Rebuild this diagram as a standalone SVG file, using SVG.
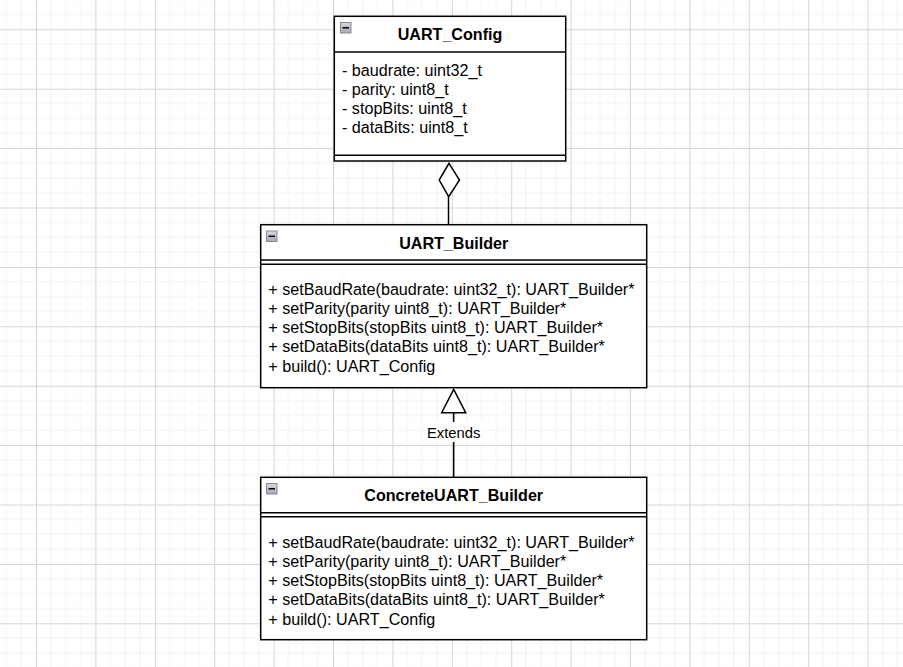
<svg xmlns="http://www.w3.org/2000/svg" width="903" height="667" viewBox="0 0 903 667">
  <style>
    .box { fill: #ffffff; stroke: #000000; stroke-width: 1.5; }
    .sep { stroke: #000000; stroke-width: 1.5; fill: none; }
    .title { font-family: "Liberation Sans", Arial, sans-serif; font-size: 16.1px; font-weight: bold; fill: #000; text-anchor: middle; }
    .member { font-family: "Liberation Sans", Arial, sans-serif; font-size: 16.15px; fill: #000; }
    .label { font-family: "Liberation Sans", Arial, sans-serif; font-size: 14.8px; fill: #000; text-anchor: middle; }
    .edge { stroke: #000000; stroke-width: 1.5; fill: none; }
    .icon { fill: url(#iconGrad); stroke: #8a8a96; stroke-width: 1; }
    .iconMinus { stroke: #000; stroke-width: 1.5; }
  </style>
  <defs>
    <pattern id="grid" width="59.4" height="59.4" patternUnits="userSpaceOnUse" patternTransform="translate(36 29.3)">
      <path d="M14.85 0V59.4M29.7 0V59.4M44.55 0V59.4M0 14.85H59.4M0 29.7H59.4M0 44.55H59.4" stroke="#f1f1f1" stroke-width="1" fill="none"/>
      <path d="M0.5 0V59.4M0 0.5H59.4" stroke="#d4d4d4" stroke-width="1" fill="none"/>
    </pattern>
    <linearGradient id="iconGrad" x1="0" y1="0" x2="0" y2="1">
      <stop offset="0" stop-color="#d8d8e0"/>
      <stop offset="1" stop-color="#a8a8b4"/>
    </linearGradient>
  </defs>

  <rect x="0" y="0" width="903" height="667" fill="#ffffff"/>
  <rect x="0" y="0" width="903" height="667" fill="url(#grid)"/>

  <g id="connectors">
    <!-- aggregation: UART_Builder -> UART_Config -->
    <path class="edge" d="M448.5 196.7V225"/>
    <path class="edge" d="M449 163.3L459.5 180L448.7 196.7L439.2 180Z" style="fill:#ffffff"/>
    <!-- generalization: ConcreteUART_Builder -> UART_Builder -->
    <path class="edge" d="M453.7 412.7V477.3"/>
    <path class="edge" d="M453.7 389.3L465.7 412.7L441.7 412.7Z" style="fill:#ffffff"/>
    <rect x="425" y="422" width="57.4" height="20" fill="#ffffff"/>
    <text class="label" x="453.7" y="437.5">Extends</text>
  </g>

  <g id="UART_Config">
    <rect class="box" x="334.3" y="16.3" width="231.4" height="144.7"/>
    <path class="sep" d="M334.3 52H565.7M334.3 155.3H565.7"/>
    <rect class="icon" x="340.5" y="22.5" width="10.5" height="10.5"/>
    <path class="iconMinus" d="M342.5 27.8H349"/>
    <text class="title" x="450" y="39.7">UART_Config</text>
    <text class="member" x="342" y="75.5">- baudrate: uint32_t</text>
    <text class="member" x="342" y="94.8">- parity: uint8_t</text>
    <text class="member" x="342" y="114.1">- stopBits: uint8_t</text>
    <text class="member" x="342" y="133.4">- dataBits: uint8_t</text>
  </g>

  <g id="UART_Builder">
    <rect class="box" x="260.7" y="224.7" width="386" height="163"/>
    <path class="sep" d="M260.7 260H646.7M260.7 264.3H646.7"/>
    <rect class="icon" x="266.5" y="231" width="10.5" height="10.5"/>
    <path class="iconMinus" d="M268.5 236.3H275"/>
    <text class="title" x="453.7" y="248.5">UART_Builder</text>
    <text class="member" x="268.3" y="294.5">+ setBaudRate(baudrate: uint32_t): UART_Builder*</text>
    <text class="member" x="268.3" y="313.8">+ setParity(parity uint8_t): UART_Builder*</text>
    <text class="member" x="268.3" y="333">+ setStopBits(stopBits uint8_t): UART_Builder*</text>
    <text class="member" x="268.3" y="352.2">+ setDataBits(dataBits uint8_t): UART_Builder*</text>
    <text class="member" x="268.3" y="371.5">+ build(): UART_Config</text>
  </g>

  <g id="ConcreteUART_Builder">
    <rect class="box" x="260.7" y="477.3" width="386" height="162.4"/>
    <path class="sep" d="M260.7 512.7H646.7M260.7 516.7H646.7"/>
    <rect class="icon" x="266.5" y="483.5" width="10.5" height="10.5"/>
    <path class="iconMinus" d="M268.5 488.8H275"/>
    <text class="title" x="453.7" y="500.7">ConcreteUART_Builder</text>
    <text class="member" x="268.3" y="547.8">+ setBaudRate(baudrate: uint32_t): UART_Builder*</text>
    <text class="member" x="268.3" y="567">+ setParity(parity uint8_t): UART_Builder*</text>
    <text class="member" x="268.3" y="586.2">+ setStopBits(stopBits uint8_t): UART_Builder*</text>
    <text class="member" x="268.3" y="605.4">+ setDataBits(dataBits uint8_t): UART_Builder*</text>
    <text class="member" x="268.3" y="624.6">+ build(): UART_Config</text>
  </g>
</svg>
